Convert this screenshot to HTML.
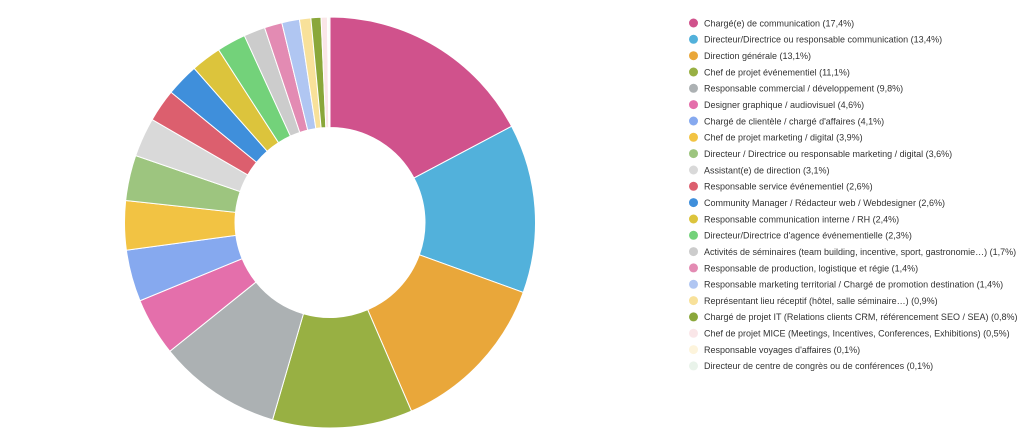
<!DOCTYPE html>
<html><head><meta charset="utf-8"><style>
html,body{margin:0;padding:0;background:#fff;width:1024px;height:444px;overflow:hidden}
svg{position:absolute;left:0;top:0}
text{font-family:"Liberation Sans",Arial,sans-serif;font-size:9px;fill:#333}
</style></head><body>
<svg id="s" width="1024" height="444" xmlns="http://www.w3.org/2000/svg"></svg>
<script>
var d=[
["Chargé(e) de communication (17,4%)",17.4,"#d0528c"],
["Directeur/Directrice ou responsable communication (13,4%)",13.4,"#52b1db"],
["Direction générale (13,1%)",13.1,"#e9a73a"],
["Chef de projet événementiel (11,1%)",11.1,"#98b043"],
["Responsable commercial / développement (9,8%)",9.8,"#acb1b3"],
["Designer graphique / audiovisuel (4,6%)",4.6,"#e46fab"],
["Chargé de clientèle / chargé d'affaires (4,1%)",4.1,"#86a9ef"],
["Chef de projet marketing / digital (3,9%)",3.9,"#f2c343"],
["Directeur / Directrice ou responsable marketing / digital (3,6%)",3.6,"#9dc57f"],
["Assistant(e) de direction (3,1%)",3.1,"#d9d9d9"],
["Responsable service événementiel (2,6%)",2.6,"#dc5f6e"],
["Community Manager / Rédacteur web / Webdesigner (2,6%)",2.6,"#3f8fdb"],
["Responsable communication interne / RH (2,4%)",2.4,"#dcc43c"],
["Directeur/Directrice d'agence événementielle (2,3%)",2.3,"#73d27a"],
["Activités de séminaires (team building, incentive, sport, gastronomie…) (1,7%)",1.7,"#cccccc"],
["Responsable de production, logistique et régie (1,4%)",1.4,"#e38bb3"],
["Responsable marketing territorial / Chargé de promotion destination (1,4%)",1.4,"#b0c6f2"],
["Représentant lieu réceptif (hôtel, salle séminaire…) (0,9%)",0.9,"#f8e19a"],
["Chargé de projet IT (Relations clients CRM, référencement SEO / SEA) (0,8%)",0.8,"#8aa73a"],
["Chef de projet MICE (Meetings, Incentives, Conferences, Exhibitions) (0,5%)",0.5,"#fae6e8"],
["Responsable voyages d'affaires (0,1%)",0.1,"#fdf4dc"],
["Directeur de centre de congrès ou de conférences (0,1%)",0.1,"#e9f3ea"]];
var s=document.getElementById('s'),tot=0;d.forEach(e=>tot+=e[1]);
var cx=330,cy=222.5,R=205.5,r=95,a=0,h='';
function p(rad,ang){return (cx+rad*Math.sin(ang)).toFixed(2)+','+(cy-rad*Math.cos(ang)).toFixed(2)}
d.forEach((e,i)=>{var b=a+e[1]/tot*2*Math.PI,l=(b-a)>Math.PI?1:0;
h+='<path d="M'+p(R,a)+'A'+R+','+R+' 0 '+l+' 1 '+p(R,b)+'L'+p(r,b)+'A'+r+','+r+' 0 '+l+' 0 '+p(r,a)+'Z" fill="'+e[2]+'" stroke="#fff" stroke-width="1"/>';
var y=23+i*16.33;
h+='<circle cx="693.5" cy="'+y.toFixed(1)+'" r="4.5" fill="'+e[2]+'"/><text x="704" y="'+(y+3.3).toFixed(1)+'">'+e[0].replace(/&/g,'&amp;')+'</text>';
a=b;});
s.innerHTML=h;
</script>
</body></html>
